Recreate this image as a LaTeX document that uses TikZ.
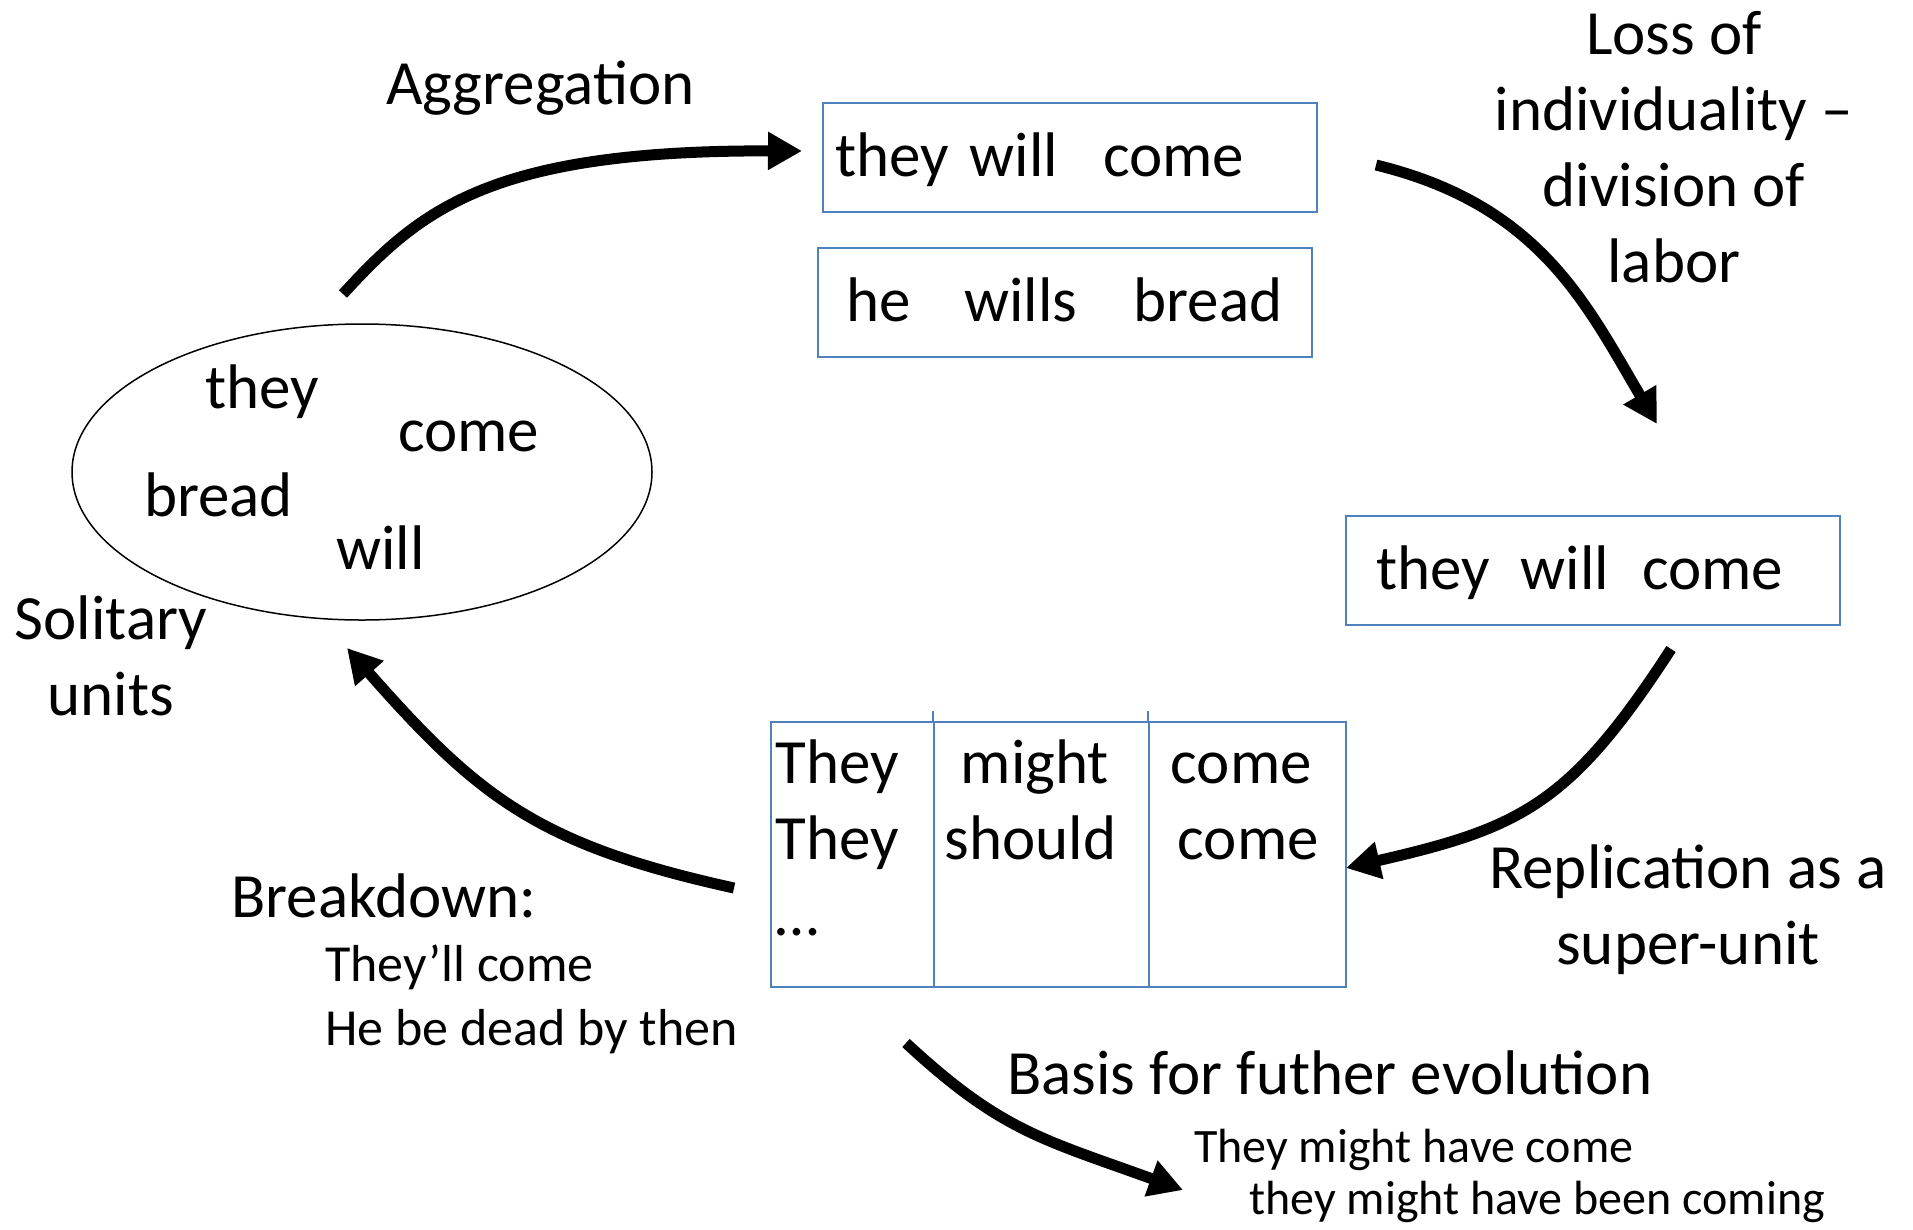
\documentclass[tikz,border=0pt]{standalone}
\usepackage{fontspec}
\setmainfont{Carlito}
\usetikzlibrary{arrows.meta,shapes.geometric}
\definecolor{boxblue}{RGB}{79,129,189}

\begin{document}
\begin{tikzpicture}[x=1pt, y=-1pt,
    word/.style={inner sep=0pt, font=\fontsize{63}{76}\selectfont},
    note/.style={inner sep=0pt, font=\fontsize{52}{64}\selectfont},
    smallnote/.style={inner sep=0pt, font=\fontsize{48}{52}\selectfont},
    unitbox/.style={rectangle, draw=boxblue, line width=2pt, anchor=north west,
                    inner xsep=12pt, inner ysep=0pt, text width=470pt,
                    text height=73pt, text depth=36pt, align=left,
                    font=\fontsize{63}{76}\selectfont},
    cell/.style={rectangle, draw=boxblue, line width=1.5pt, anchor=north west,
                 inner ysep=0pt, text height=62pt, text depth=203pt, align=left,
                 font=\fontsize{63}{76}\selectfont},
    pile/.style={ellipse, draw=black, line width=1.5pt, inner sep=0pt},
    arrow/.style={line width=11pt, -{Triangle[length=34pt,width=36pt]}}
]

\useasboundingbox (0,0) rectangle (1913,1229);

\node[pile, minimum width=580pt, minimum height=296pt] (units) at (362,472) {};
\node[word, anchor=base west] (w1) at (205,408) {they};
\node[word, anchor=base west] (w2) at (398,451) {come};
\node[word, anchor=base west] (w3) at (144,516) {bread};
\node[word, anchor=base west] (w4) at (336,569) {will};
\node[word, align=center, anchor=base] (solo) at (111,715) {Solitary\\units};

\node[unitbox] (pair1) at (822,102) {they will\hspace{45pt}come};
\node[unitbox] (pair2) at (817,247) {\hspace*{16pt}he\hspace{54pt}wills\hspace{56pt}bread};
\node[unitbox] (unit) at (1345,515) {\hspace*{18pt}they\hspace{31pt}will\hspace{33pt}come};

\node[cell, inner xsep=5pt, text width=153pt] (c1) at (770,721) {They\\They\\…};
\node[cell, inner xsep=11pt, text width=193pt] (c2) at (933,721) {\hspace*{16pt}might\\should};
\node[cell, inner xsep=22pt, text width=153pt] (c3) at (1148,721) {come\\\hspace*{7pt}come};
\draw[boxblue, line width=1.5pt] (c2.north west) -- ++(0,-10);
\draw[boxblue, line width=1.5pt] (c3.north west) -- ++(0,-10);

\node[word, anchor=base west] (agg) at (386,104) {Aggregation};
\node[word, align=center, anchor=base] (loss) at (1674,282) {Loss of\\individuality –\\division of\\labor};
\node[word, align=center, anchor=base] (repl) at (1688,964) {Replication as a\\super-unit};
\node[word, anchor=base west] (brk) at (231,917) {Breakdown:};
\node[note, align=left, anchor=base west] (brkex) at (325,1045) {They’ll come\\He be dead by then};
\node[word, anchor=base west] (basis) at (1007,1094) {Basis for futher evolution};
\node[smallnote, align=left, anchor=base west] (basisex) at (1194,1214) {They might have come\\\hspace*{55pt}they might have been coming};

\coordinate (aggS) at (343,294);
\coordinate (aggE) at (802,151);
\coordinate (lossS) at (1376,165);
\coordinate (lossE) at (1657,424);
\coordinate (replS) at (1671,649);
\coordinate (replE) at (1346,868);
\coordinate (brkS) at (734,888);
\coordinate (brkE) at (347,648);
\coordinate (basisS) at (906,1043);
\coordinate (basisE) at (1183,1190);

\draw[arrow] (aggS) .. controls (420,210) and (490,150) .. (aggE);
\draw[arrow] (lossS) .. controls (1540,205) and (1586,304) .. (lossE);
\draw[arrow] (replS) .. controls (1570,805) and (1520,828) .. (replE);
\draw[arrow] (brkS) .. controls (539,845) and (479,798) .. (brkE);
\draw[arrow] (basisS) .. controls (1001,1131) and (1042,1139) .. (basisE);

\end{tikzpicture}
\end{document}
